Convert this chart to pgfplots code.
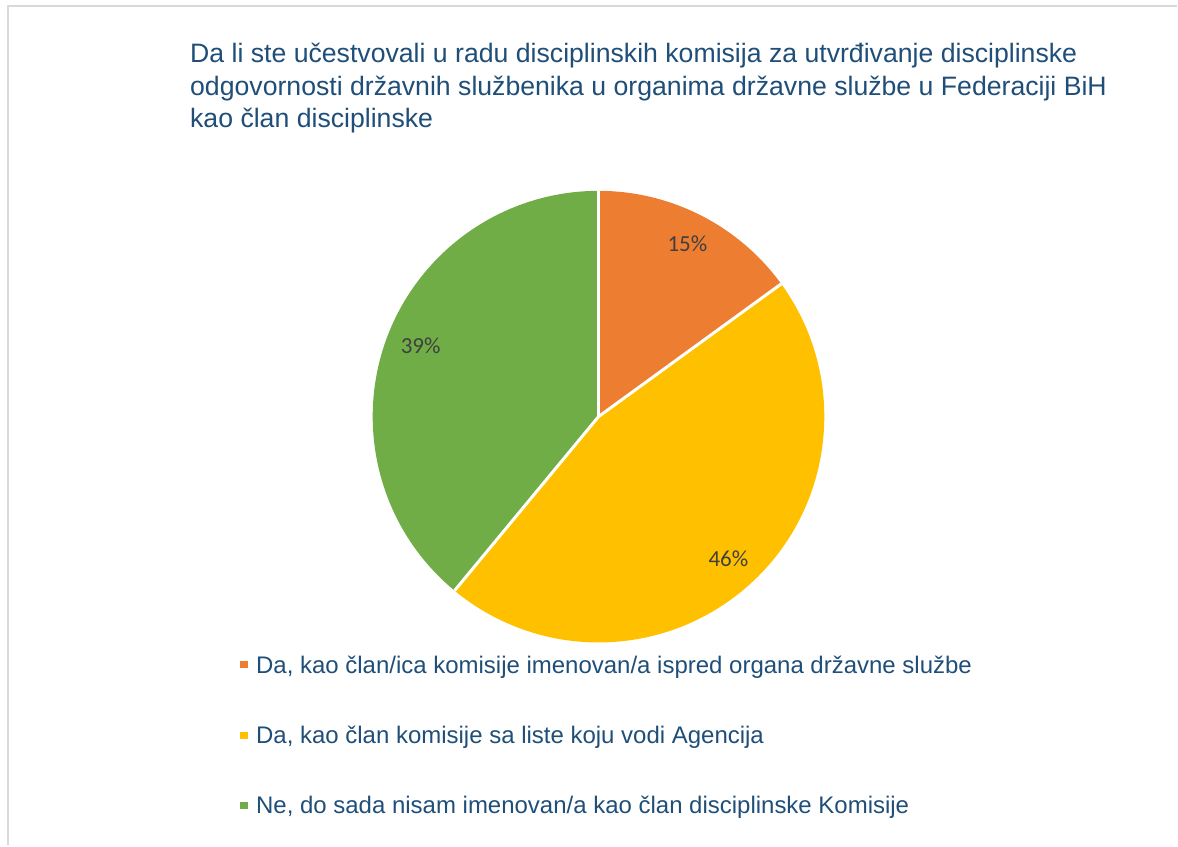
\documentclass[border=0pt]{standalone}
\usepackage{pgfplots}
\usepackage{pgfplotstable}
\pgfplotsset{compat=1.18}
\usepackage{fontspec}
\setmainfont{Liberation Sans}
\newfontfamily\calibri{Carlito}
\definecolor{pOrange}{HTML}{ED7D31}
\definecolor{pYellow}{HTML}{FFC000}
\definecolor{pGreen}{HTML}{70AD47}
\definecolor{tBlue}{HTML}{1F4E79}
\definecolor{lGray}{HTML}{404040}
\definecolor{frameGray}{HTML}{D9D9D9}

\pgfplotstableread{
idx value lx ly
0 15 688 602
1 46 729 287
2 39 421 500
}\piedata

\pgfplotstablegetelem{0}{value}\of\piedata \pgfmathsetmacro\va{\pgfplotsretval}
\pgfplotstablegetelem{1}{value}\of\piedata \pgfmathsetmacro\vb{\pgfplotsretval}
\pgfplotstablegetelem{2}{value}\of\piedata \pgfmathsetmacro\vc{\pgfplotsretval}
\pgfmathsetmacro\tot{\va+\vb+\vc}
\pgfmathsetmacro\aS{90}
\pgfmathsetmacro\aA{90-360/\tot*\va}
\pgfmathsetmacro\aB{\aA-360/\tot*\vb}
\pgfmathsetmacro\aC{\aB-360/\tot*\vc}
\def\R{135.6pt}

\begin{document}
\begin{tikzpicture}
\begin{axis}[
  x=0.6pt, y=0.6pt,
  xmin=0, xmax=1178, ymin=0, ymax=846,
  axis lines=none, scale only axis, clip=false,
]
\path (axis cs:0,0) (axis cs:1178,846);
\draw[frameGray, line width=1.2pt] (axis cs:8.5,0) -- (axis cs:8.5,840) -- (axis cs:1178,840);

% pie slices
\fill[pOrange] (axis cs:599,429) -- ++(\aS:\R) arc[start angle=\aS, end angle=\aA, radius=\R] -- cycle;
\fill[pYellow] (axis cs:599,429) -- ++(\aA:\R) arc[start angle=\aA, end angle=\aB, radius=\R] -- cycle;
\fill[pGreen] (axis cs:599,429) -- ++(\aB:\R) arc[start angle=\aB, end angle=\aC, radius=\R] -- cycle;
\draw[white, line width=1.8pt] (axis cs:599,429) -- ++(\aS:\R);
\draw[white, line width=1.8pt] (axis cs:599,429) -- ++(\aA:\R);
\draw[white, line width=1.8pt] (axis cs:599,429) -- ++(\aB:\R);

% data labels
\pgfplotsforeachungrouped \i in {0,1,2}{%
  \pgfplotstablegetelem{\i}{value}\of\piedata \edef\vv{\pgfplotsretval}%
  \pgfplotstablegetelem{\i}{lx}\of\piedata \edef\xx{\pgfplotsretval}%
  \pgfplotstablegetelem{\i}{ly}\of\piedata \edef\yy{\pgfplotsretval}%
  \edef\cmd{\noexpand\node[lGray, font=\noexpand\calibri\noexpand\fontsize{13.8pt}{16pt}\noexpand\selectfont] at (axis cs:\xx,\yy) {\vv\noexpand\%};}%
  \cmd
}

% title
\begin{scope}[every node/.style={anchor=base west, inner sep=0pt, tBlue, font=\fontsize{16pt}{19pt}\selectfont}]
\node at (axis cs:190,783) {Da li ste učestvovali u radu disciplinskih komisija za utvrđivanje disciplinske};
\node at (axis cs:190,750) {odgovornosti državnih službenika u organima državne službe u Federaciji BiH};
\node at (axis cs:190,718) {kao član disciplinske};
\end{scope}

% legend
\fill[pOrange] (axis cs:240.5,177) rectangle (axis cs:248,184.5);
\fill[pYellow] (axis cs:240.5,106) rectangle (axis cs:248,113.5);
\fill[pGreen] (axis cs:240.5,36) rectangle (axis cs:248,43.5);
\begin{scope}[every node/.style={anchor=base west, inner sep=0pt, tBlue, font=\fontsize{14.4pt}{17pt}\selectfont}]
\node at (axis cs:256,172) {Da, kao član/ica komisije imenovan/a ispred organa državne službe};
\node at (axis cs:256,102) {Da, kao član komisije sa liste koju vodi Agencija};
\node at (axis cs:256,32) {Ne, do sada nisam imenovan/a kao član disciplinske Komisije};
\end{scope}
\end{axis}
\end{tikzpicture}
\end{document}
